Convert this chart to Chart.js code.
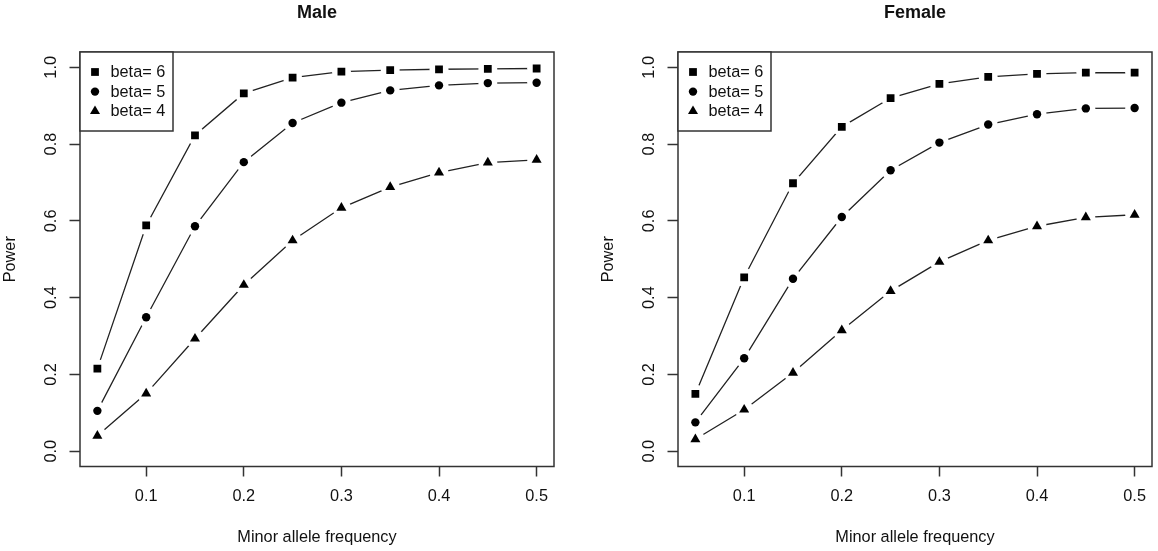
<!DOCTYPE html>
<html>
<head>
<meta charset="utf-8">
<script src="https://cdn.jsdelivr.net/npm/chart.js"></script>
<style>
  html, body { margin: 0; padding: 0; background: #fff; overflow: hidden; }
  #wrap { position: relative; width: 1158px; height: 551px; overflow: hidden; }
  canvas { position: absolute; top: 0; }
</style>
</head>
<body>
<div id="wrap">
  <canvas id="male" width="579" height="551" style="left:0px;width:579px;height:551px"></canvas>
  <canvas id="female" width="579" height="551" style="left:598px;width:579px;height:551px"></canvas>
</div>
<script>
// --- DATA ---
const mafValues = [0.05, 0.1, 0.15, 0.2, 0.25, 0.3, 0.35, 0.4, 0.45, 0.5];
const seriesLabels = ['beta= 6', 'beta= 5', 'beta= 4'];
const xTickValues = [0.1, 0.2, 0.3, 0.4, 0.5];
const yTickValues = [0.0, 0.2, 0.4, 0.6, 0.8, 1.0];

const maleBeta6 = [0.215, 0.588, 0.823, 0.932, 0.973, 0.989, 0.993, 0.995, 0.996, 0.997];
const maleBeta5 = [0.105, 0.349, 0.586, 0.753, 0.855, 0.908, 0.940, 0.953, 0.959, 0.960];
const maleBeta4 = [0.040, 0.150, 0.293, 0.433, 0.549, 0.634, 0.688, 0.726, 0.752, 0.759];

const femaleBeta6 = [0.149, 0.453, 0.698, 0.845, 0.920, 0.957, 0.975, 0.983, 0.986, 0.986];
const femaleBeta5 = [0.075, 0.242, 0.449, 0.610, 0.732, 0.804, 0.851, 0.878, 0.893, 0.894];
const femaleBeta4 = [0.031, 0.108, 0.204, 0.315, 0.417, 0.493, 0.549, 0.586, 0.609, 0.616];

// --- STYLE ---
const FONT = "'Liberation Sans', Arial, Helvetica, sans-serif";
const INK = '#111';
const FRAME = '#333';
const markers = [
  { style: 'rect', radius: 5.5 },
  { style: 'circle', radius: 4.2 },
  { style: 'triangle', radius: 5.8 }
];

// --- HELPERS ---
const toPoints = (ys) => mafValues.map((x, i) => ({ x: x, y: ys[i] }));

function drawMarker(ctx, style, r, x, y) {
  ctx.beginPath();
  if (style === 'rect') {
    const s = r * Math.SQRT1_2;
    ctx.rect(x - s, y - s, 2 * s, 2 * s);
  } else if (style === 'circle') {
    ctx.arc(x, y, r, 0, Math.PI * 2);
  } else {
    for (let k = 0; k < 3; k++) {
      const a = k * 2 * Math.PI / 3;
      const px = x + Math.sin(a) * r, py = y - Math.cos(a) * r;
      k === 0 ? ctx.moveTo(px, py) : ctx.lineTo(px, py);
    }
    ctx.closePath();
  }
  ctx.fill();
}

// box around plot region + legend box in the top-left corner (R style)
const framePlugin = {
  id: 'rframe',
  afterDraw(chart) {
    const { ctx, chartArea: a } = chart;
    ctx.save();
    ctx.strokeStyle = FRAME;
    ctx.lineWidth = 1.5;
    ctx.strokeRect(a.left, a.top, a.right - a.left, a.bottom - a.top);

    // legend
    const lw = 93, lh = 79;
    ctx.fillStyle = '#fff';
    ctx.fillRect(a.left, a.top, lw, lh);
    ctx.strokeRect(a.left, a.top, lw, lh);
    ctx.font = '16.3px ' + FONT;
    ctx.textBaseline = 'middle';
    seriesLabels.forEach((lab, i) => {
      const y = a.top + 20 + i * 19.6;
      ctx.fillStyle = '#000';
      drawMarker(ctx, markers[i].style, markers[i].radius, a.left + 15, y);
      ctx.fillStyle = INK;
      ctx.fillText(lab, a.left + 30.5, y + 0.5);
    });
    ctx.restore();
  }
};

function makeChart(id, title, series) {
  const datasets = [];
  // lines first, then white gaps round each point, then the symbols (like R type="b")
  series.forEach((ys, i) => datasets.push({
    data: toPoints(ys), showLine: true, borderColor: '#222', borderWidth: 1.3,
    pointRadius: 0, order: 3
  }));
  series.forEach((ys, i) => datasets.push({
    data: toPoints(ys), showLine: false, pointStyle: 'circle', pointRadius: 9.5,
    pointBackgroundColor: '#fff', pointBorderWidth: 0, order: 2
  }));
  series.forEach((ys, i) => datasets.push({
    data: toPoints(ys), showLine: false, pointStyle: markers[i].style,
    pointRadius: markers[i].radius, pointBackgroundColor: '#000', pointBorderWidth: 0, order: 1
  }));

  return new Chart(document.getElementById(id), {
    type: 'scatter',
    data: { datasets: datasets },
    plugins: [framePlugin],
    options: {
      responsive: false,
      animation: false,
      devicePixelRatio: 1,
      layout: { padding: { left: 0, right: 25, top: 0, bottom: 0 } },
      plugins: {
        legend: { display: false },
        tooltip: { enabled: false },
        title: {
          display: true, text: title, fullSize: false, color: INK,
          font: { family: FONT, size: 18, weight: 'bold', lineHeight: 1.2 },
          padding: { top: 1.8, bottom: 28.6 }
        }
      },
      scales: {
        x: {
          type: 'linear', min: 0.0322, max: 0.5178,
          afterBuildTicks: (s) => { s.ticks = xTickValues.map(v => ({ value: v })); },
          afterFit: (s) => { s.height = 84.5; },
          grid: { display: true, drawOnChartArea: false, drawTicks: true, tickLength: 10, tickColor: FRAME, tickWidth: 1.5 },
          border: { display: false },
          ticks: { color: INK, padding: 10.6, font: { family: FONT, size: 16.3 }, maxRotation: 0, autoSkip: false,
                   callback: (v) => Number(v).toFixed(1) },
          title: { display: true, text: 'Minor allele frequency', color: INK,
                   font: { family: FONT, size: 16.3 }, padding: { top: 0, bottom: 3.6 } }
        },
        y: {
          type: 'linear', min: -0.04, max: 1.04,
          afterBuildTicks: (s) => { s.ticks = yTickValues.map(v => ({ value: v })); },
          afterFit: (s) => { s.width = 80; },
          grid: { display: true, drawOnChartArea: false, drawTicks: true, tickLength: 10.5, tickColor: FRAME, tickWidth: 1.5 },
          border: { display: false },
          ticks: { color: INK, padding: 6.8, crossAlign: 'center', minRotation: 90, maxRotation: 90,
                   font: { family: FONT, size: 16.3 }, autoSkip: false,
                   callback: (v) => Number(v).toFixed(1) },
          title: { display: true, text: 'Power', color: INK,
                   font: { family: FONT, size: 16.3 }, padding: { top: 1, bottom: 0 } }
        }
      }
    }
  });
}

makeChart('male', 'Male', [maleBeta6, maleBeta5, maleBeta4]);
makeChart('female', 'Female', [femaleBeta6, femaleBeta5, femaleBeta4]);
</script>
</body>
</html>
